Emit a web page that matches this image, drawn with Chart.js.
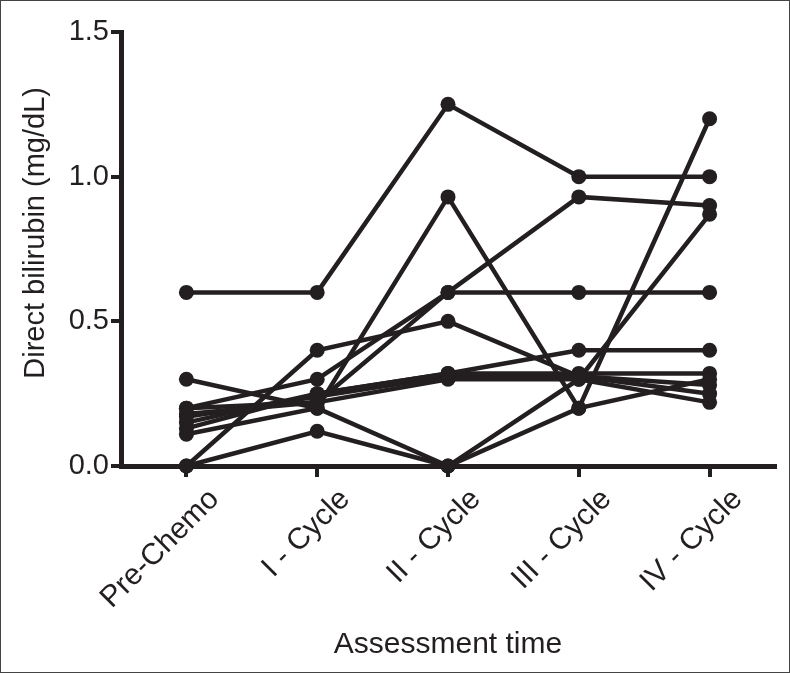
<!DOCTYPE html>
<html>
<head>
<meta charset="utf-8">
<script src="https://cdn.jsdelivr.net/npm/chart.js@4"></script>
<style>
  body { margin: 0; background: #fff; }
  #wrap { position: relative; width: 790px; height: 673px; }
  #frame { position: absolute; left: 0; top: 0; width: 790px; height: 673px;
           box-sizing: border-box; border: 1px solid #444; pointer-events: none; }
  canvas { display: block; }
</style>
</head>
<body>
<div id="wrap">
  <canvas id="myChart" width="790" height="673"></canvas>
  <div id="frame"></div>
</div>
<script>
// assessment points
const timepoints = ['Pre-Chemo', 'I - Cycle', 'II - Cycle', 'III - Cycle', 'IV - Cycle'];
const yTicks = [0.0, 0.5, 1.0, 1.5];

// direct bilirubin (mg/dL) per patient
const patient1 = [0.6, 0.6, 1.25, 1.0, 1.0];
const patient2 = [0.3, 0.2, 0.93, 0.2, 1.2];
const patient3 = [0.0, 0.4, 0.5, 0.31, 0.25];
const patient4 = [0.2, 0.3, 0.6, 0.93, 0.9];
const patient5 = [0.18, 0.22, 0.6, 0.6, 0.6];
const patient6 = [0.15, 0.25, 0.32, 0.4, 0.4];
const patient7 = [0.11, 0.2, 0.0, 0.3, 0.87];
const patient8 = [0.0, 0.12, 0.0, 0.2, 0.3];
const patient9 = [0.13, 0.25, 0.32, 0.32, 0.32];
const patient10 = [0.2, 0.22, 0.3, 0.3, 0.22];
const patient11 = [0.17, 0.24, 0.31, 0.31, 0.28];

const patients = [patient1, patient2, patient3, patient4, patient5, patient6,
                  patient7, patient8, patient9, patient10, patient11];

const ink = '#231f20';
const fontFamily = 'Liberation Sans, Arial, sans-serif';

function makeDataset(values, i) {
    return {
        label: 'Patient ' + (i + 1),
        data: values,
        borderColor: ink,
        backgroundColor: ink,
        borderWidth: 4.5,
        pointRadius: 7.5,
        pointBorderWidth: 0,
        pointBackgroundColor: ink,
        tension: 0,
        clip: false,
    };
}

var ctx = document.getElementById('myChart').getContext('2d');

var myChart = new Chart(ctx, {
    type: 'line',
    data: {
        labels: timepoints,
        datasets: patients.map(makeDataset),
    },
    options: {
        responsive: false,
        animation: false,
        layout: {
            padding: { top: 32, right: 15, left: 0, bottom: 0 },
        },
        plugins: {
            legend: { display: false },
            tooltip: { enabled: false },
        },
        scales: {
            x: {
                type: 'category',
                offset: true,
                border: { display: true, color: ink, width: 5 },
                grid: {
                    drawOnChartArea: false,
                    drawTicks: true,
                    tickLength: 11,
                    lineWidth: 4,
                    color: ink,
                    offset: false,
                },
                ticks: {
                    color: ink,
                    minRotation: 45,
                    maxRotation: 45,
                    labelOffset: 28,
                    padding: 5,
                    font: { family: fontFamily, size: 30 },
                },
                title: {
                    display: true,
                    text: 'Assessment time',
                    color: ink,
                    padding: { top: 10, bottom: 10 },
                    font: { family: fontFamily, size: 30 },
                },
                afterFit: (scale) => { scale.height = 207; },
            },
            y: {
                min: 0,
                max: 1.5,
                border: { display: true, color: ink, width: 5 },
                grid: {
                    drawOnChartArea: false,
                    drawTicks: true,
                    tickLength: 10,
                    lineWidth: 4,
                    color: ink,
                },
                afterBuildTicks: (scale) => {
                    scale.ticks = yTicks.map(v => ({ value: v }));
                },
                ticks: {
                    color: ink,
                    padding: 2,
                    callback: (v) => Number(v).toFixed(1),
                    font: { family: fontFamily, size: 29 },
                },
                title: {
                    display: true,
                    text: '    Direct bilirubin (mg/dL)',
                    color: ink,
                    padding: { top: 19, bottom: 19 },
                    font: { family: fontFamily, size: 29 },
                },
                afterFit: (scale) => { scale.width = 121; },
            },
        },
    },
});
</script>
</body>
</html>
